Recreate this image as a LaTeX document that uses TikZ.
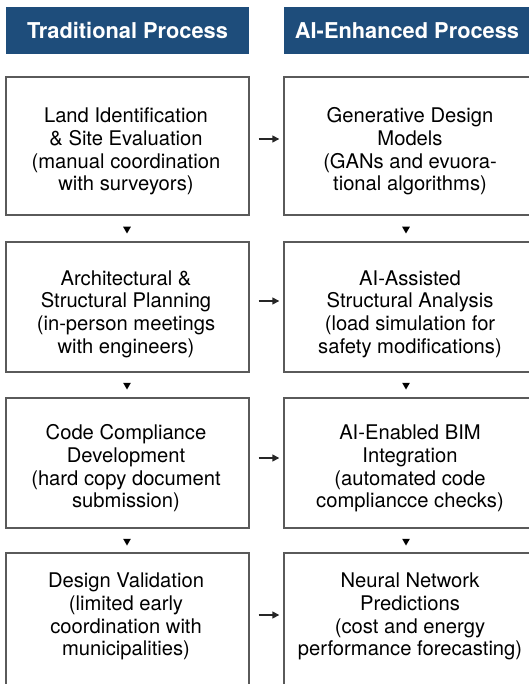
\documentclass[tikz,border=0pt]{standalone}
\usepackage{fontspec}
\setmainfont{TeX Gyre Heros}
\usepackage{xcolor}
\usetikzlibrary{arrows.meta,shapes.geometric,positioning}

\definecolor{headblue}{HTML}{1E4D7B}
\definecolor{edgegray}{HTML}{5A5A5A}

\tikzset{
    head/.style={fill=headblue,text=white,font=\bfseries\fontsize{21.8}{26}\selectfont,
        minimum height=47,inner sep=0},
    stage/.style={draw=edgegray,line width=1.4,fill=white,inner sep=0},
    stagetext/.style={align=center,font=\fontsize{20.2}{22.7}\selectfont,inner sep=0},
    down/.style={regular polygon,regular polygon sides=3,shape border rotate=180,
        fill=black,inner sep=0,minimum size=9},
    across/.style={-{Triangle[length=7,width=7]},line width=1.4,draw=black!85,
        shorten <=9,shorten >=4}
}

\begin{document}
\begin{tikzpicture}[x=1pt,y=-1pt]
    \useasboundingbox (0,0) rectangle (529,684);

    % Column headers
    \node[head,minimum width=243] (hl) at (127.5,30.5) {Traditional Process};
    \node[head,minimum width=246] (hr) at (407,30.5) {AI-Enhanced Process};

    % Traditional steps
    \node[stage,minimum width=243,minimum height=138] (l1) at (127.5,146) {};
    \node[stage,minimum width=243,minimum height=130] (l2) at (127.5,307) {};
    \node[stage,minimum width=243,minimum height=130] (l3) at (127.5,463) {};
    \node[stage,minimum width=243,minimum height=137] (l4) at (127.5,621.5) {};
    \node[stagetext] (l1t) at (126,151.5)
        {Land Identification\\ \& Site Evaluation\\ (manual coordination\\ with surveyors)};
    \node[stagetext] (l2t) at (126,314)
        {Architectural \&\\ Structural Planning\\ (in-person meetings\\ with engineers)};
    \node[stagetext] (l3t) at (126,468.5)
        {Code Compliance\\ Development\\ (hard copy document\\ submission)};
    \node[stagetext] (l4t) at (126,616.5)
        {Design Validation\\ (limited early\\ coordination with\\ municipalities)};

    % AI-enhanced steps
    \node[stage,minimum width=250,minimum height=138] (r1) at (409,146) {};
    \node[stage,minimum width=250,minimum height=130] (r2) at (409,307) {};
    \node[stage,minimum width=250,minimum height=130] (r3) at (409,463) {};
    \node[stage,minimum width=250,minimum height=137] (r4) at (409,621.5) {};
    \node[stagetext] (r1t) at (410,151.5)
        {Generative Design\\ Models\\ (GANs and evuora-\\ tional algorithms)};
    \node[stagetext] (r2t) at (410,314)
        {AI-Assisted\\ Structural Analysis\\ (load simulation for\\ safety modifications)};
    \node[stagetext] (r3t) at (410,468.5)
        {AI-Enabled BIM\\ Integration\\ (automated code\\ compliancce checks)};
    \node[stagetext] (r4t) at (410,616.5)
        {Neural Network\\ Predictions\\ (cost and energy\\ performance forecasting)};

    % Down markers
    \node[down] (dl1) at (127,229) {};
    \node[down] (dl2) at (127,385) {};
    \node[down] (dl3) at (127,541) {};
    \node[down] (dr1) at (406,229) {};
    \node[down] (dr2) at (406,385) {};
    \node[down] (dr3) at (406,541) {};

    % Side arrows
    \draw[across] ([yshift=7]l1.east) -- ([yshift=7]r1.west);
    \draw[across] ([yshift=6]l2.east) -- ([yshift=6]r2.west);
    \draw[across] ([yshift=5]l3.east) -- ([yshift=5]r3.west);
    \draw[across] ([yshift=6.5]l4.east) -- ([yshift=6.5]r4.west);
\end{tikzpicture}
\end{document}
